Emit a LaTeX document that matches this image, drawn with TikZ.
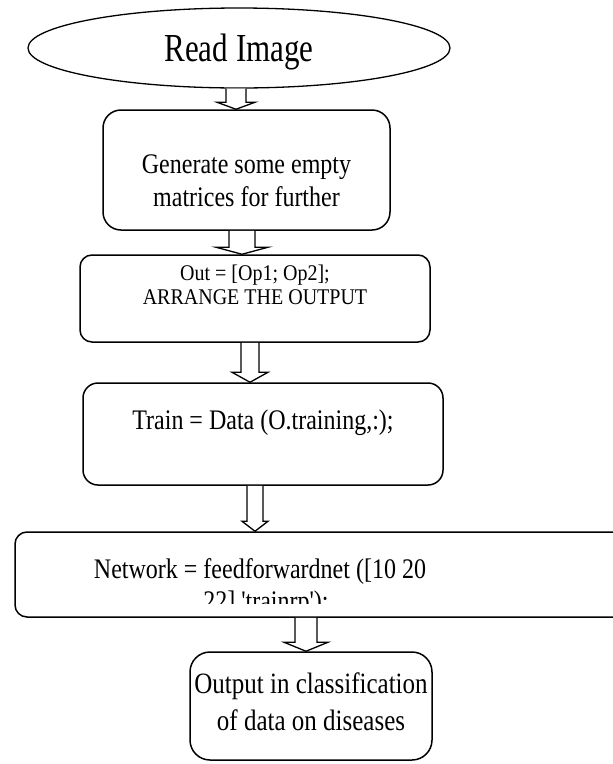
\documentclass[tikz,border=0pt]{standalone}
\usepackage{fontspec}
\setmainfont{Liberation Serif}
\usetikzlibrary{shapes.geometric,calc}

% the lettering is set slightly tall and narrow
\newcommand\tall[2][1.18]{\scalebox{1}[#1]{#2}}

\tikzset{
  boxnode/.style={draw, line width=1.5pt, rounded corners=#1, inner sep=0pt},
  boxnode/.default=16pt,
  txt/.style={anchor=base, inner sep=0pt, align=center},
  arrowline/.style={draw, line width=1.3pt, fill=white, line join=miter},
}

% hollow block arrow: from node, to node, centre x, shaft half width, head half width, head length
\newcommand\hollowarrow[6]{%
  \draw[arrowline] let \p1=(#1.south), \p2=(#2.north) in
    ({#3pt-#4pt},\y1) -- ({#3pt-#4pt},{\y2+#6pt}) -- ({#3pt-#5pt},{\y2+#6pt})
    -- (#3pt,\y2) -- ({#3pt+#5pt},{\y2+#6pt}) -- ({#3pt+#4pt},{\y2+#6pt})
    -- ({#3pt+#4pt},\y1);
}

\begin{document}
\begin{tikzpicture}[x=1pt,y=-1pt]
\useasboundingbox (0,0) rectangle (613,764);

% boxes
\node[draw, line width=1.3pt, ellipse, minimum width=422pt, minimum height=80pt, inner sep=0pt] (img) at (239,48) {};
\node[boxnode=18pt, minimum width=287pt, minimum height=120pt] (gen) at (246.5,170) {};
\node[boxnode=12pt, minimum width=350pt, minimum height=87pt] (out) at (255,298.5) {};
\node[boxnode=15pt, minimum width=360pt, minimum height=102pt] (train) at (263,434) {};
\node[boxnode=12pt, minimum width=625pt, minimum height=85pt] (net) at (327.5,574.5) {};
\node[boxnode=20pt, minimum width=242pt, minimum height=108pt] (res) at (311,706) {};

% texts
\node[txt, font=\fontsize{31}{36}\selectfont] (timg) at (239,61) {\tall[1.28]{Read Image}};
\node[txt, font=\fontsize{24}{28}\selectfont] (tgen1) at (246.5,173) {\tall{Generate some empty}};
\node[txt, font=\fontsize{24}{28}\selectfont] (tgen2) at (246.5,206) {\tall{matrices for further}};
\node[txt, font=\fontsize{20}{24}\selectfont] (tout1) at (255,280) {\tall[1.12]{Out = [Op1; Op2];}};
\node[txt, font=\fontsize{20}{24}\selectfont] (tout2) at (255,304) {\tall[1.12]{ARRANGE THE OUTPUT}};
\node[txt, font=\fontsize{24}{28}\selectfont] (ttrain) at (263,429) {\tall{Train = Data (O.training,:);}};
\node[txt, font=\fontsize{24}{28}\selectfont] (tnet1) at (260,578) {\tall{Network = feedforwardnet ([10 20}};
\begin{scope}
  \clip (15,533) rectangle (613,603);
  \node[txt, font=\fontsize{24}{28}\selectfont] (tnet2) at (266,610) {\tall{22] \textquotesingle trainrp\textquotesingle);}};
\end{scope}
\node[txt, font=\fontsize{25}{30}\selectfont] (tres1) at (311,693) {\tall{Output in classification}};
\node[txt, font=\fontsize{25}{30}\selectfont] (tres2) at (311,730) {\tall{of data on diseases}};

% connectors
\hollowarrow{img}{gen}{236}{10}{19}{7}
\hollowarrow{gen}{out}{242}{13}{26}{7}
\hollowarrow{out}{train}{250}{9}{18}{10}
\hollowarrow{train}{net}{255}{8}{13}{10}
\hollowarrow{net}{res}{306}{11}{22}{9}
\end{tikzpicture}
\end{document}
